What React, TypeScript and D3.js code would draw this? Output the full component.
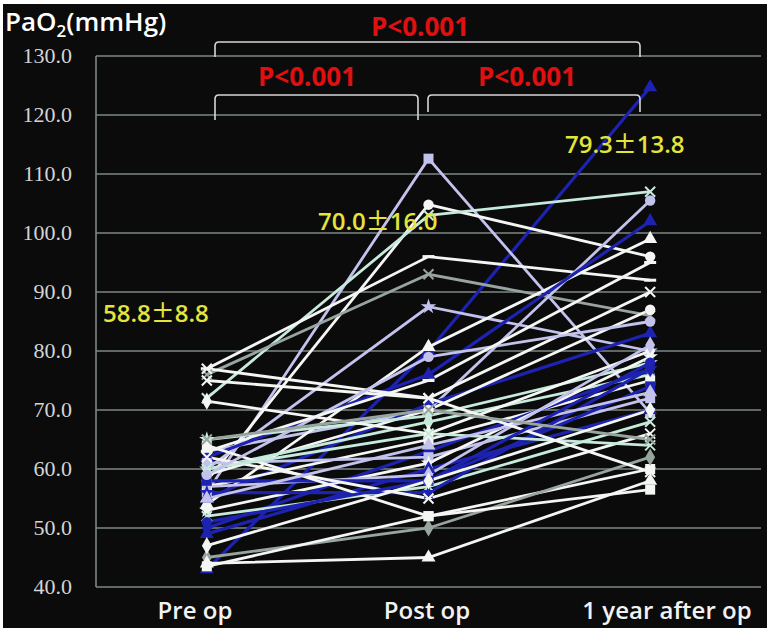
import React from "react";
import * as d3 from "d3";

const categories = ["Pre op", "Post op", "1 year after op"];
const yTicks = [40, 50, 60, 70, 80, 90, 100, 110, 120, 130];

// patient values: pre, post, 1 year
const preOp = [43, 56, 58, 72, 77, 76, 63, 60, 54, 62, 75, 55, 59, 65, 60, 71.5, 57, 50, 61, 53, 49, 57, 58, 52, 56, 62, 64, 45, 44, 43.5, 60, 55, 77, 59, 63, 51, 65, 47];
const postOp = [80, 112.6, 104.8, 103, 96, 93, 70, 87.5, 80.7, 76, 72, 71, 70, 69, 68, 66, 65, 63, 62, 61, 60, 59, 58, 57, 56, 55, 52, 50, 45, 52, 66, 64, 72, 79, 75, 58, 70, 58];
const oneYear = [124.7, 69.5, 96, 107, 92, 86, 105.5, 80, 99, 102, 90, 83, 87, 78, 76, 80, 75, 77, 72, 79, 70, 81, 74, 68, 77, 66, 60, 62, 58, 56.5, 64, 73, 59.5, 85, 95, 78, 65, 70];
const seriesColor = ["blue", "lavender", "white", "mint", "white", "gray", "lavender", "lavender", "white", "blue", "white", "blue", "white", "mint", "mint", "white", "white", "blue", "lavender", "white", "blue", "lavender", "blue", "mint", "blue", "white", "white", "gray", "white", "white", "mint", "lavender", "white", "lavender", "white", "blue", "gray", "white"];
const seriesMarker = ["triangle", "square", "circle", "x", "dash", "x", "circle", "star", "triangle", "triangle", "x", "triangle", "circle", "star", "diamond", "diamond", "square", "diamond", "square", "star", "triangle", "diamond", "square", "x", "star", "x", "square", "diamond", "triangle", "square", "x", "triangle", "x", "circle", "dash", "circle", "x", "diamond"];

const palette: Record<string, string> = {
  white: "#f4f6f4",
  lavender: "#c2c2ec",
  blue: "#1e22b0",
  mint: "#c6eadb",
  gray: "#98a49e",
};

const statMean = ["58.8", "70.0", "79.3"];
const statSd = ["8.8", "16.0", "13.8"];
const pLabel = "P<0.001";

export default function App() {
  const W = 773, H = 633;
  const x = d3.scalePoint<string>().domain(categories).range([96, 761]).padding(0.5);
  const y = d3.scaleLinear().domain([40, 130]).range([587, 56]);
  const line = d3.line<number>().x((_, i) => x(categories[i])!).y((d) => y(d));

  const sym = (m: string, s: number) => {
    const map: Record<string, any> = {
      triangle: d3.symbolTriangle,
      square: d3.symbolSquare,
      circle: d3.symbolCircle,
      diamond: d3.symbolDiamond,
      star: d3.symbolStar,
    };
    return d3.symbol(map[m], s)();
  };

  const marker = (m: string, cx: number, cy: number, c: string, k: string) => {
    if (m === "x") {
      return (
        <path key={k} d={`M${cx - 5},${cy - 5}L${cx + 5},${cy + 5}M${cx - 5},${cy + 5}L${cx + 5},${cy - 5}`} stroke={c} strokeWidth={2} />
      );
    }
    if (m === "dash") {
      return <path key={k} d={`M${cx - 6},${cy}L${cx + 6},${cy}`} stroke={c} strokeWidth={3} />;
    }
    const size = m === "square" ? 100 : m === "circle" ? 85 : m === "star" ? 75 : 85;
    return <path key={k} d={sym(m, size)!} transform={`translate(${cx},${cy})`} fill={c} />;
  };

  const patients = preOp.map((p, i) => ({ vals: [p, postOp[i], oneYear[i]], color: palette[seriesColor[i]], m: seriesMarker[i] }));

  const gridColor = "#7d8884";
  const bracket = (x0: number, x1: number, top: number, b0: number, b1: number, r = 4) =>
    `M${x0},${b0}L${x0},${top + r}Q${x0},${top} ${x0 + r},${top}L${x1 - r},${top}Q${x1},${top} ${x1},${top + r}L${x1},${b1}`;

  const sans = "'Open Sans', 'Noto Sans', sans-serif";
  const statPos = [[103, 322], [318, 230], [565, 153]];

  return (
    <svg width={W} height={H} style={{ position: "absolute", left: 0, top: 0, background: "#fff" }}>
      <rect x={3} y={4} width={764} height={624} fill="#0b0b0b" />
      {yTicks.map((t) => (
        <g key={t}>
          <line x1={96} x2={761} y1={y(t)} y2={y(t)} stroke={gridColor} strokeWidth={1.6} />
          <text x={72} y={y(t) + 7} textAnchor="end" fill="#d4d4d4" fontFamily="'Liberation Serif', serif" fontSize={22}>
            {t.toFixed(1)}
          </text>
        </g>
      ))}
      <line x1={96} x2={96} y1={y(130)} y2={y(40)} stroke={gridColor} strokeWidth={1.6} />

      {patients.map((p, i) => (
        <path key={"l" + i} d={line(p.vals)!} fill="none" stroke={p.color} strokeWidth={p.color === palette.blue ? 3.2 : 2.8} />
      ))}
      {patients.map((p, i) =>
        p.vals.map((v, j) => marker(p.m, x(categories[j])!, y(v), p.color, `m${i}-${j}`))
      )}

      <path d={bracket(215, 640, 42, 57, 57)} fill="none" stroke="#d6d6d6" strokeWidth={1.6} />
      <path d={bracket(215, 418, 95, 120, 120)} fill="none" stroke="#d6d6d6" strokeWidth={1.6} />
      <path d={bracket(428, 640, 95, 112, 112)} fill="none" stroke="#d6d6d6" strokeWidth={1.6} />

      <text x={420} y={36} textAnchor="middle" fill="#e01010" fontFamily={sans} fontWeight={700} fontSize={26}>{pLabel}</text>
      <text x={307} y={86} textAnchor="middle" fill="#e01010" fontFamily={sans} fontWeight={700} fontSize={26}>{pLabel}</text>
      <text x={527} y={86} textAnchor="middle" fill="#e01010" fontFamily={sans} fontWeight={700} fontSize={26}>{pLabel}</text>

      {statMean.map((m, i) => (
        <text key={m} x={statPos[i][0]} y={statPos[i][1]} fill="#e4e43a" fontFamily={sans} fontWeight={600} fontSize={24}>
          {m}
          <tspan fontFamily="'Noto Sans CJK JP', sans-serif" fontWeight={500}>±</tspan>
          {statSd[i]}
        </text>
      ))}

      <text x={5} y={31} fill="#ffffff" fontFamily={sans} fontWeight={600} fontSize={26}>
        PaO<tspan dy={6} fontSize={17}>2</tspan><tspan dy={-6}>(mmHg)</tspan>
      </text>

      {categories.map((c, i) => (
        <text key={c} x={[195, 427, 667][i]} y={619} textAnchor="middle" fill="#f2f2f2" fontFamily={sans} fontWeight={600} fontSize={24}>
          {c}
        </text>
      ))}
    </svg>
  );
}
